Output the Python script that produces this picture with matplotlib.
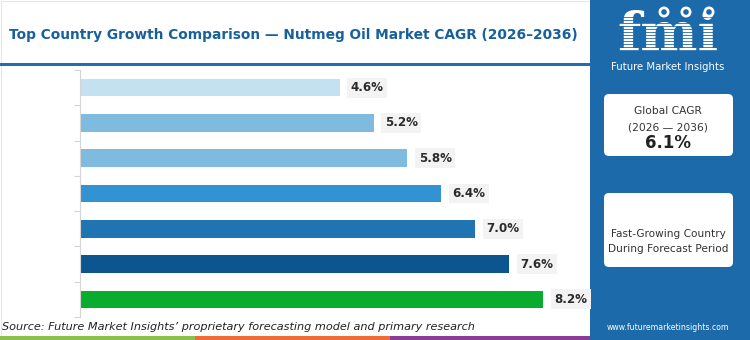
"""Nutmeg oil market - top country growth comparison (CAGR 2026-2036)"""
import matplotlib
matplotlib.use('Agg')
import matplotlib.pyplot as plt
from matplotlib.patches import FancyBboxPatch, Rectangle, Circle

# data
countries = ['', '', '', '', '', '', '']
cagr = [4.6, 5.2, 5.8, 6.4, 7.0, 7.6, 8.2]
labels = ['4.6%', '5.2%', '5.8%', '6.4%', '7.0%', '7.6%', '8.2%']
bar_colors = ['#c4e1f2', '#7fbadf', '#7fbadf', '#3293d3', '#1f74b1', '#0d558f', '#09ac2c']

W, H = 750, 340
PANEL = '#1c6aa9'
fig = plt.figure(figsize=(7.5, 3.4), dpi=100)
fig.patch.set_facecolor('white')

def fx(px):
    return px / W

def fy(py):
    return 1 - py / H

# background overlay axis for decorations (pixel coords)
bg = fig.add_axes([0, 0, 1, 1])
bg.set_xlim(0, W)
bg.set_ylim(H, 0)
bg.axis('off')

# faint border round the chart area
bg.add_patch(Rectangle((0.5, 0.5), 589, 338, facecolor='none', edgecolor='#e6e6e6', lw=0.8))

# title + underline
bg.text(9, 35, 'Top Country Growth Comparison \u2014 Nutmeg Oil Market CAGR (2026\u20132036)',
        ha='left', va='center', fontsize=9.9, fontweight='bold', color='#17609c')
bg.add_patch(Rectangle((0, 63), 590, 2.6, facecolor='#1f6fae', edgecolor='none'))

# bottom colour stripe
for x0, x1, c in [(0, 195, '#8cc04a'), (195, 390, '#f06b36'), (390, 590, '#8c3c97')]:
    bg.add_patch(Rectangle((x0, 336), x1 - x0, 4, facecolor=c, edgecolor='none'))

bg.text(2, 327, 'Source: Future Market Insights\u2019 proprietary forecasting model and primary research',
        ha='left', va='center', fontsize=8.1, style='italic', color='#222222')

# right panel
bg.add_patch(Rectangle((590, 0), 160, 340, facecolor=PANEL, edgecolor='none'))

# logo
bg.text(668, 36, 'fmi', ha='center', va='center', fontsize=39, fontweight='bold',
        family='DejaVu Serif', color='white', zorder=3)
for yy in range(16, 60, 3):
    bg.plot([604, 734], [yy + 0.5, yy + 0.5], color=PANEL, lw=0.6, zorder=4)
for cx in (664, 686, 709):
    bg.add_patch(Circle((cx, 12), 5.5, facecolor='white', edgecolor='none', zorder=5))
    bg.add_patch(Circle((cx, 12), 2.8, facecolor=PANEL, edgecolor='none', zorder=6))
bg.text(668, 67, 'Future Market Insights', ha='center', va='center', fontsize=7.3, color='white')

# info boxes
for y0, h in [(94, 62), (193, 74)]:
    bg.add_patch(FancyBboxPatch((604, y0), 129, h, boxstyle='round,pad=0,rounding_size=5',
                                facecolor='white', edgecolor='none'))
bg.text(668, 111, 'Global CAGR', ha='center', va='center', fontsize=7.7, color='#333333')
bg.text(668, 127, '(2026 \u2014 2036)', ha='center', va='center', fontsize=7.7, color='#333333')
bg.text(668, 143, '6.1%', ha='center', va='center', fontsize=12, fontweight='bold', color='#222222')
bg.text(668, 234, 'Fast-Growing Country', ha='center', va='center', fontsize=7.6, color='#333333')
bg.text(668, 249, 'During Forecast Period', ha='center', va='center', fontsize=7.6, color='#333333')
bg.text(668, 327, 'www.futuremarketinsights.com', ha='center', va='center', fontsize=5.6, color='white')

# bar chart
ax = fig.add_axes([fx(80), fy(317), fx(588) - fx(80), fy(70) - fy(317)])
ax.set_facecolor('none')
pos = list(range(len(cagr)))
ax.barh(pos, cagr, height=0.5, color=bar_colors, zorder=2)
for p, v, lab in zip(pos, cagr, labels):
    ax.text(v + 0.2, p, lab, ha='left', va='center', fontsize=8.6, fontweight='bold',
            color='#2b2b2b', bbox=dict(facecolor='#f3f3f3', edgecolor='none', pad=2.5))
ax.set_xlim(0, 9.0)
ax.set_ylim(len(cagr) - 0.5, -0.5)
ax.set_yticks([p - 0.5 for p in pos] + [len(cagr) - 0.5])
ax.set_yticklabels([])
ax.set_xticks([])
ax.tick_params(axis='y', length=4, color='#d5d5d5', width=0.8)
for s in ['top', 'right', 'bottom']:
    ax.spines[s].set_visible(False)
ax.spines['left'].set_color('#d5d5d5')
ax.spines['left'].set_linewidth(0.8)

fig.savefig('out.png', dpi=100, facecolor='white')
